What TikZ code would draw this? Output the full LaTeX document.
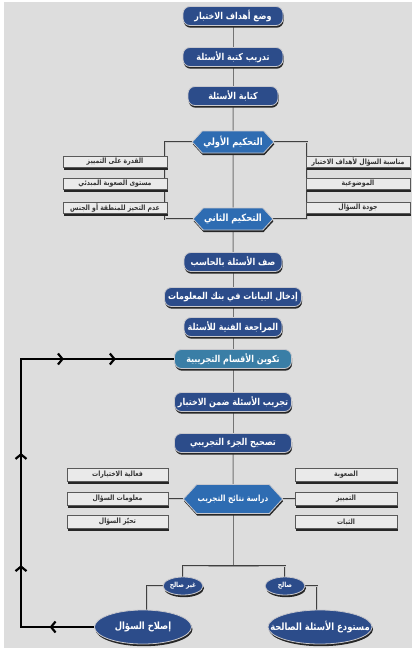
\documentclass[tikz,border=0pt]{standalone}
\usepackage{fontspec}
\usetikzlibrary{shapes.symbols,shapes.geometric,shadows,arrows.meta,decorations.markings}
\newfontfamily\arabicfont[Script=Arabic, FakeStretch=0.84]{DejaVu Sans}
\TeXXeTstate=1
\newcommand\artx[1]{\beginR #1\endR}
\definecolor{bgc}{RGB}{221,221,221}
\definecolor{navy}{RGB}{44,76,138}
\definecolor{hexblue}{RGB}{46,108,178}
\definecolor{teal}{RGB}{58,126,166}
\definecolor{boxfill}{RGB}{234,234,234}
\definecolor{edgegray}{RGB}{200,200,205}
\pgfdeclarelayer{back}
\pgfdeclarelayer{bg}
\pgfsetlayers{back,bg,main}
\tikzset{
  mybarb/.tip={Straight Barb[length=4.5pt,width=11pt,line width=2.2pt]},
  shadowed/.style={drop shadow={shadow xshift=0.6pt, shadow yshift=-2.2pt, shadow scale=1, fill=black!85, opacity=1}},
  mainbox/.style={rectangle, rounded corners=7pt, fill=navy, draw=edgegray, line width=0.8pt,
    text=white, font=\arabicfont\bfseries\fontsize{9.5}{10}\selectfont,
    minimum height=19pt, inner sep=1pt, shadowed},
  tealbox/.style={mainbox, fill=teal},
  hexbox/.style={signal, signal to=west and east, signal pointer angle=95, fill=hexblue,
    draw=edgegray, line width=0.8pt, text=white, font=\arabicfont\bfseries\fontsize{10}{11}\selectfont,
    inner xsep=1pt, shadowed},
  graybox/.style={rectangle, fill=boxfill, draw=black!65, line width=0.6pt, text=black!80,
    font=\arabicfont\bfseries\fontsize{7.3}{8}\selectfont, inner sep=0.5pt, shadowed},
  ovalbox/.style={ellipse, fill=navy, draw=edgegray, line width=0.8pt, text=white,
    font=\arabicfont\bfseries\fontsize{10}{11}\selectfont, inner xsep=-16pt, inner ysep=0pt,
    drop shadow={shadow xshift=1pt, shadow yshift=-2.2pt, shadow scale=1, fill=black!85, opacity=1}},
  smalloval/.style={ovalbox, inner xsep=-5pt, font=\arabicfont\bfseries\fontsize{7}{8}\selectfont},
  trunk/.style={draw=black!55, line width=1pt},
  dbl/.style={draw=black!75, double=black!22, double distance=1pt, line width=0.8pt},
  loopline/.style={draw=black, line width=1.7pt,
    postaction={decorate},
    decoration={markings,
      mark=at position 0.09 with {\arrow{mybarb}},
      mark=at position 0.273 with {\arrow{mybarb}},
      mark=at position 0.50 with {\arrow{mybarb}},
      mark=at position 0.777 with {\arrow{mybarb}},
      mark=at position 0.882 with {\arrow{mybarb}}}}
}
\begin{document}
\begin{tikzpicture}[x=1pt,y=-1pt]
\useasboundingbox (0,0) rectangle (416,651);
\begin{pgfonlayer}{back}
  \fill[white] (0,0) rectangle (416,651);
  \fill[bgc] (4,2) rectangle (412,648);
\end{pgfonlayer}

% main column
\node[mainbox, minimum width=100pt] (b1) at (233,16) {\artx{وضع أهداف الاختبار}};
\node[mainbox, minimum width=100pt] (b2) at (233,57) {\artx{تدريب كتبة الأسئلة}};
\node[mainbox, minimum width=90pt] (b3) at (233,96) {\artx{كتابة الأسئلة}};
\node[hexbox, minimum width=75pt, minimum height=22pt] (h1) at (233,142) {\artx{التحكيم الأولي}};
\node[hexbox, minimum width=75pt, minimum height=22pt] (h2) at (233,219) {\artx{التحكيم الثاني}};
\node[mainbox, minimum width=98pt] (b4) at (233,262) {\artx{صف الأسئلة بالحاسب}};
\node[mainbox, minimum width=137pt] (b5) at (233,297) {\artx{إدخال البيانات في بنك المعلومات}};
\node[mainbox, minimum width=98pt] (b6) at (233,327) {\artx{المراجعة الفنية للأسئلة}};
\node[tealbox, minimum width=117pt] (b7) at (233,359) {\artx{تكوين الأقسام التجريبية}};
\node[mainbox, minimum width=117pt] (b8) at (233,402) {\artx{تجريب الأسئلة ضمن الاختبار}};
\node[mainbox, minimum width=117pt] (b9) at (233,443) {\artx{تصحيح الجزء التجريبي}};
\node[hexbox, minimum width=95pt, minimum height=29pt, font=\arabicfont\bfseries\fontsize{8.5}{10}\selectfont] (h3) at (233,499) {\artx{دراسة نتائج التجريب}};

% side boxes of first review
\node[graybox, minimum width=104pt, minimum height=11pt] (l1) at (115,162) {\artx{القدرة على التمييز}};
\node[graybox, minimum width=104pt, minimum height=11pt] (l2) at (115,184) {\artx{مستوى الصعوبة المبدئي}};
\node[graybox, minimum width=104pt, minimum height=11pt] (l3) at (115,208) {\artx{عدم التحيز للمنطقة أو الجنس}};
\node[graybox, minimum width=104pt, minimum height=11pt] (r1) at (358,162) {\artx{مناسبة السؤال لأهداف الاختبار}};
\node[graybox, minimum width=104pt, minimum height=11pt] (r2) at (358,184) {\artx{الموضوعية}};
\node[graybox, minimum width=104pt, minimum height=11pt] (r3) at (358,208) {\artx{جودة السؤال}};

% side boxes of results study
\node[graybox, minimum width=101pt, minimum height=13pt] (m1) at (117.5,475) {\artx{فعالية الاختيارات}};
\node[graybox, minimum width=101pt, minimum height=13pt] (m2) at (117.5,499) {\artx{معلومات السؤال}};
\node[graybox, minimum width=101pt, minimum height=13pt] (m3) at (117.5,522) {\artx{تحيّز السؤال}};
\node[graybox, minimum width=102pt, minimum height=13pt] (n1) at (346,475) {\artx{الصعوبة}};
\node[graybox, minimum width=102pt, minimum height=13pt] (n2) at (346,499) {\artx{التمييز}};
\node[graybox, minimum width=102pt, minimum height=13pt] (n3) at (346,522) {\artx{الثبات}};

% outcome ovals
\node[smalloval, minimum width=40pt, minimum height=18pt] (ghair) at (183,586) {\artx{غير صالح}};
\node[smalloval, minimum width=40pt, minimum height=18pt] (salih) at (285,586) {\artx{صالح}};
\node[ovalbox, minimum width=97pt, minimum height=34pt] (islah) at (143,627) {\artx{إصلاح السؤال}};
\node[ovalbox, minimum width=104pt, minimum height=34pt] (mustawda) at (320,627) {\artx{مستودع الأسئلة الصالحة}};

\coordinate (lbr) at (165,0);
\coordinate (rbr) at (307,0);
\coordinate (split) at (233,566);
\coordinate (lpx) at (21,0);

\begin{pgfonlayer}{bg}
  \draw[trunk] (b1) -- (b2);
  \draw[trunk] (b2) -- (b3);
  \draw[trunk] (b3) -- (h1);
  \draw[trunk] (h1) -- (h2);
  \draw[trunk] (h2) -- (b4);
  \draw[trunk] (b4) -- (b5);
  \draw[trunk] (b5) -- (b6);
  \draw[trunk] (b6) -- (b7);
  \draw[trunk] (b7) -- (b8);
  \draw[trunk] (b8) -- (b9);
  \draw[trunk] (b9) -- (h3);
  \draw[trunk] (h3) -- (split);
  \draw[dbl] (h1.west) -- (h1.west -| lbr) |- (h2.west);
  \draw[dbl] (h1.east) -- (h1.east -| rbr) |- (h2.east);
  \draw[dbl] (h3.west) -- (m2.east);
  \draw[dbl] (h3.east) -- (n2.west);
  \draw[dbl] (ghair) |- (split) -| (salih);
  \draw[dbl] (ghair.west) -| ([xshift=4pt]islah.north);
  \draw[dbl] (salih.east) -| ([xshift=-3pt]mustawda.north);
  \draw[loopline] (islah.west) -- (islah.west -| lpx) |- (b7.west);
\end{pgfonlayer}
\end{tikzpicture}
\end{document}
